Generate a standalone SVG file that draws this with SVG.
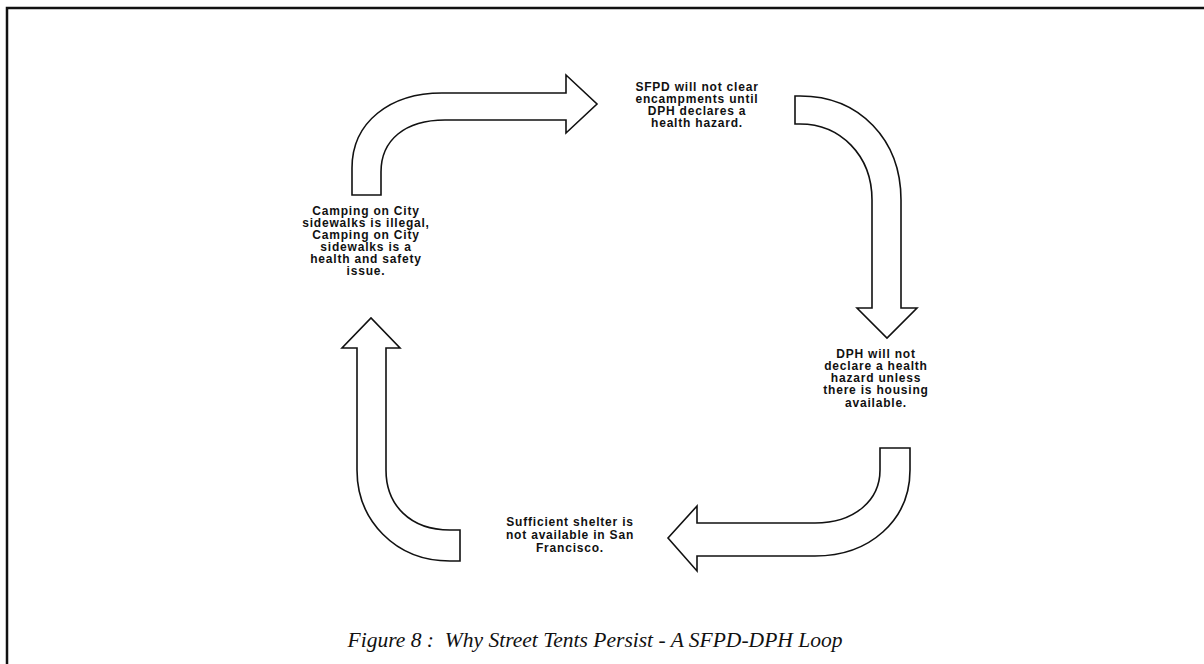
<svg xmlns="http://www.w3.org/2000/svg" width="1204" height="664" viewBox="0 0 1204 664">
<style>
.arrow{fill:#fff;stroke:#111;stroke-width:1.6;stroke-linejoin:miter}
.lbl{font-family:"Liberation Sans",Arial,sans-serif;font-weight:bold;font-size:12px;letter-spacing:0.8px;fill:#111;text-anchor:middle}
.cap{font-family:"Liberation Serif","Times New Roman",serif;font-style:italic;font-size:20px;fill:#111;text-anchor:middle}
</style>
<rect width="1204" height="664" fill="#fff"/>
<path d="M7,664 L7,8 L1204,8" fill="none" stroke="#111" stroke-width="2.5"/>
<g id="connectors">
<path class="arrow" d="M352,195 L352,168 C352,122 390,93 442,93 L566,93 L566,75 L597,104 L566,133 L566,120 L445,120 C405,120 381,140 381,172 L381,195 Z"/>
<path class="arrow" d="M795,96 L800,96 C860,96 901,140 901,200 L901,308 L917,308 L887,338 L857,308 L872,308 L872,200 C872,155 840,124 800,124 L795,124 Z"/>
<path class="arrow" d="M880,448 L910,448 L910,470 C910,520 870,556 815,556 L697,556 L697,571 L668,538 L697,506 L697,523 L815,523 C855,523 880,500 880,470 Z"/>
<path class="arrow" d="M460,530 L460,561 L450,561 C395,561 357,520 357,470 L357,348 L342,348 L371,318 L400,348 L386,348 L386,470 C386,505 410,530 450,530 Z"/>
</g>
<g id="node1">
<text class="lbl" x="366" y="215">Camping on City</text>
<text class="lbl" x="366" y="227">sidewalks is illegal,</text>
<text class="lbl" x="366" y="239">Camping on City</text>
<text class="lbl" x="366" y="251">sidewalks is a</text>
<text class="lbl" x="366" y="263">health and safety</text>
<text class="lbl" x="366" y="275">issue.</text>
</g>
<g id="node2">
<text class="lbl" x="697" y="91">SFPD will not clear</text>
<text class="lbl" x="697" y="103">encampments until</text>
<text class="lbl" x="697" y="115">DPH declares a</text>
<text class="lbl" x="697" y="127">health hazard.</text>
</g>
<g id="node3">
<text class="lbl" x="876" y="358">DPH will not</text>
<text class="lbl" x="876" y="370">declare a health</text>
<text class="lbl" x="876" y="382">hazard unless</text>
<text class="lbl" x="876" y="394">there is housing</text>
<text class="lbl" x="876" y="407">available.</text>
</g>
<g id="node4">
<text class="lbl" x="570" y="526">Sufficient shelter is</text>
<text class="lbl" x="570" y="539">not available in San</text>
<text class="lbl" x="570" y="552">Francisco.</text>
</g>
<g id="caption">
<text class="cap" x="595" y="647" xml:space="preserve" textLength="495" lengthAdjust="spacingAndGlyphs">Figure 8 :  Why Street Tents Persist - A SFPD-DPH Loop</text>
</g>
</svg>
